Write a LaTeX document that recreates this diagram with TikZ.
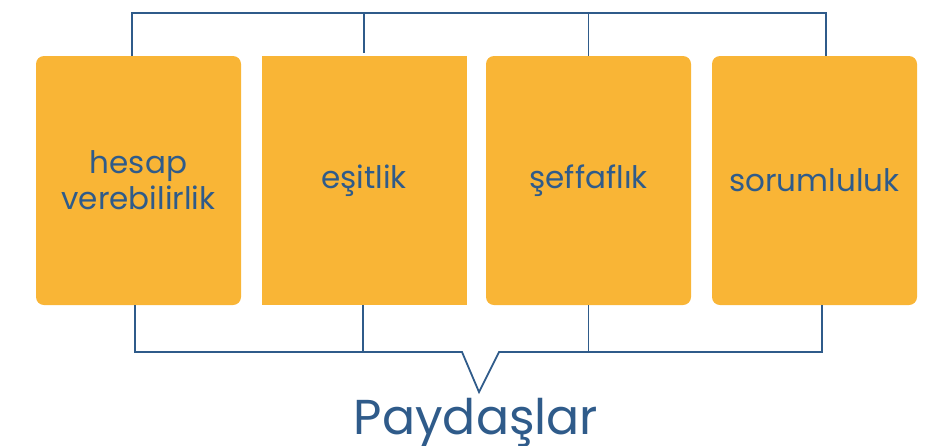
\documentclass[tikz,border=0pt]{standalone}
\usepackage{fontspec}
\setmainfont{Poppins}
\usepackage{xcolor}
\definecolor{boxfill}{HTML}{F9B536}
\definecolor{linkblue}{HTML}{2F5B8A}

\begin{document}
\begin{tikzpicture}[x=1pt, y=-1pt,
  valuebox/.style={fill=boxfill, minimum width=205pt, minimum height=249pt, rounded corners=8pt, inner sep=0pt, align=center, text=linkblue, font=\fontsize{31}{36}\selectfont},
  link/.style={draw=linkblue, line width=1.8pt}]
\useasboundingbox (0,0) rectangle (934,445);

\node[valuebox] (hesap) at (138.5,180.5) {hesap\\verebilirlik};
\node[valuebox, sharp corners] (esit) at (364,180.5) {eşitlik};
\node[valuebox] (seffaf) at (588.5,180.5) {şeffaflık};
\node[valuebox] (sorum) at (814.5,180.5) {sorumluluk};

\coordinate (topleft) at ([xshift=-6.5pt, yshift=43pt]hesap.north);
\coordinate (tip) at (479,392);
\node[anchor=base, text=linkblue, font=\fontsize{49}{58}\selectfont] (paydas) at (476,434) {Paydaşlar};

% top bracket
\draw[link] ([xshift=-6.5pt]hesap.north) -- (topleft) -| ([xshift=11.5pt]sorum.north);
\draw[link] (esit.north |- topleft) -- ([yshift=3pt]esit.north);
\draw[link] (seffaf.north |- topleft) -- (seffaf.north);

% bottom bracket
\draw[link] ([xshift=-3.5pt]hesap.south) |- ([xshift=-17pt]tip |- 0,352) -- (tip) -- ([xshift=20pt]tip |- 0,352) -| ([xshift=7.5pt]sorum.south);
\draw[link] ([xshift=-1pt]esit.south) -- ++(0,47);
\draw[link] (seffaf.south) -- ++(0,47);
\end{tikzpicture}
\end{document}
